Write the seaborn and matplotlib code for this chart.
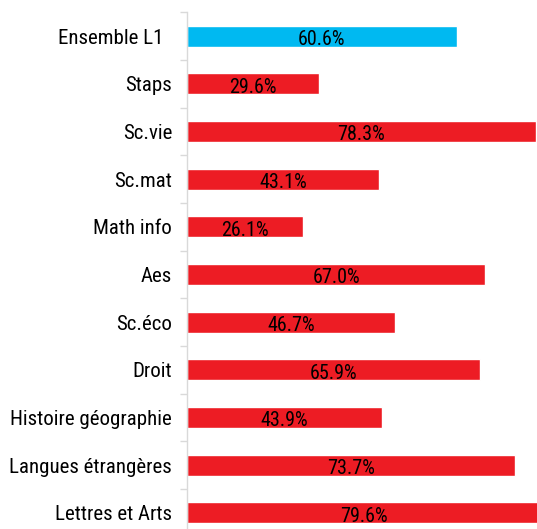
import matplotlib
matplotlib.use("Agg")
import matplotlib.pyplot as plt
from matplotlib.transforms import ScaledTranslation
import seaborn as sns
import pandas as pd

categories = ["Ensemble L1", "Staps", "Sc.vie", "Sc.mat", "Math info", "Aes",
              "Sc.éco", "Droit", "Histoire géographie", "Langues étrangères",
              "Lettres et Arts"]
values = [60.6, 29.6, 78.3, 43.1, 26.1, 67.0, 46.7, 65.9, 43.9, 73.7, 79.6]
value_labels = ["60.6%", "29.6%", "78.3%", "43.1%", "26.1%", "67.0%",
                "46.7%", "65.9%", "43.9%", "73.7%", "79.6%"]
blue = "#00B9F1"
red = "#ED1C24"
colors = [blue] + [red] * (len(categories) - 1)

df = pd.DataFrame({"cat": categories, "val": values})

sns.set_style("white")
FONT = ["Roboto Condensed", "Archivo Narrow", "DejaVu Sans"]
plt.rcParams["font.family"] = FONT

W, H = 537, 529
fig = plt.figure(figsize=(W / 100, H / 100), dpi=100)
left_px, top_px = 187, 12.3
row = 47.67
ax_h = row * 11
ax_right_px = 187 + 79.6 * 4.452
ax = fig.add_axes([left_px / W, 1 - (top_px + ax_h) / H,
                   (ax_right_px - left_px) / W, ax_h / H])

sns.barplot(data=df, x="val", y="cat", hue="cat", palette=colors,
            legend=False, orient="h", width=0.44, ax=ax, saturation=1)

ax.set_xlim(0, 79.6)
ax.set_ylim(10.5, -0.5)
ax.set_xlabel("")
ax.set_ylabel("")
ax.set_xticks([])
for s in ["top", "right", "bottom"]:
    ax.spines[s].set_visible(False)
ax.spines["left"].set_color("#d9d9d9")
ax.spines["left"].set_linewidth(1.0)

ax.set_yticks([i - 0.5 for i in range(11)], minor=True)
ax.tick_params(axis="y", which="minor", length=5, width=1, color="#d9d9d9",
               direction="out", left=True)
ax.set_yticks(range(11))
ax.set_yticklabels(categories, fontsize=15, family=FONT, color="black")
ax.tick_params(axis="y", which="major", length=0, pad=10.8)
lbl0 = ax.get_yticklabels()[0]
lbl0.set_transform(lbl0.get_transform() + ScaledTranslation(-9 / 100, 0, fig.dpi_scale_trans))

for i, (v, t) in enumerate(zip(values, value_labels)):
    ax.annotate(t, (v / 2, i), xytext=(0, -2.5), textcoords="offset points",
                ha="center", va="center", fontsize=14.5, family=FONT,
                color="black", annotation_clip=False)

fig.savefig("out.png", dpi=100)
